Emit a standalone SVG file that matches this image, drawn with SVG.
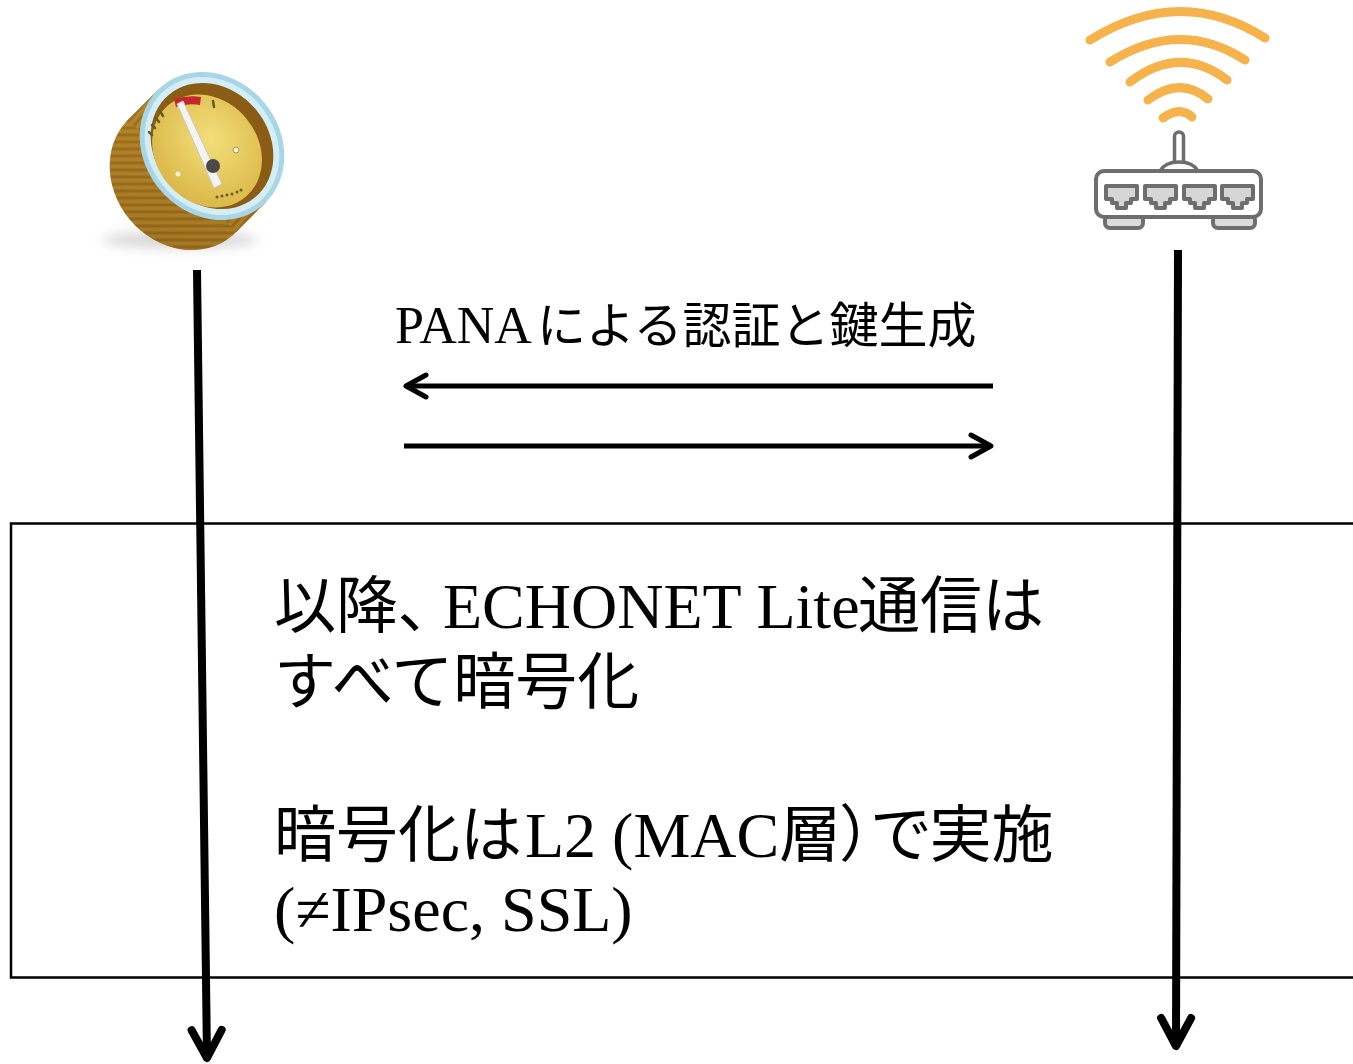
<svg xmlns="http://www.w3.org/2000/svg" width="1353" height="1064" viewBox="0 0 1353 1064">
  <style>
    .lat { font-family: "Liberation Serif", "Times New Roman", serif; }
    .cjk { font-family: "Noto Sans CJK JP", "Noto Sans", sans-serif; }
    .pcjk { font-family: "Noto Sans CJK JP", "Noto Sans", sans-serif; font-feature-settings: "palt" 1; }
    .big { font-size: 62px; fill: #000; }
    .label { font-size: 49px; fill: #000; }
    .life { stroke: #000; stroke-width: 8; fill: none; }
    .msg { stroke: #000; stroke-width: 5; fill: none; }
    .wifi { stroke: #f6b24b; stroke-width: 9; fill: none; stroke-linecap: round; }
    .grey { stroke: #6e6e6e; stroke-width: 4; stroke-linejoin: round; }
  </style>
  <defs>
    <marker id="headBig" markerUnits="userSpaceOnUse" orient="auto" overflow="visible" markerWidth="40" markerHeight="40">
      <path d="M -28,-15 L 0,0 L -28,15" fill="none" stroke="#000" stroke-width="8" stroke-linecap="round" stroke-linejoin="round"/>
    </marker>
    <marker id="headMsg" markerUnits="userSpaceOnUse" orient="auto" overflow="visible" markerWidth="30" markerHeight="30">
      <path d="M -20,-11 L 0,0 L -20,11" fill="none" stroke="#000" stroke-width="5" stroke-linecap="round" stroke-linejoin="round"/>
    </marker>
    <radialGradient id="faceGrad" cx="0.45" cy="0.4" r="0.65">
      <stop offset="0" stop-color="#f3df7a"/>
      <stop offset="1" stop-color="#d9b545"/>
    </radialGradient>
    <linearGradient id="bodyGrad" x1="0" y1="0" x2="1" y2="1">
      <stop offset="0" stop-color="#c2922e"/>
      <stop offset="1" stop-color="#7d5614"/>
    </linearGradient>
    <pattern id="ridges" patternUnits="userSpaceOnUse" width="7" height="7" patternTransform="rotate(40)">
      <rect width="7" height="7" fill="#b5852a"/>
      <rect width="3" height="7" fill="#94681c"/>
    </pattern>
    <filter id="soft" x="-20%" y="-200%" width="140%" height="500%">
      <feGaussianBlur stdDeviation="6"/>
    </filter>
  </defs>

  <!-- encrypted-communication region -->
  <rect id="secureBox" x="11" y="523.5" width="1360" height="454" fill="none" stroke="#000" stroke-width="2.5"/>

  <!-- smart meter -->
  <g id="meter">
    <ellipse cx="180" cy="240" rx="78" ry="8" fill="#bbbbbb" opacity="0.6" filter="url(#soft)"/>
    <!-- cylinder body -->
    <ellipse cx="182" cy="176" rx="78" ry="68" transform="rotate(50 182 176)" fill="url(#ridges)"/>
    <polygon points="158,89.7 266,202.3 236,232.3 128,119.7" fill="url(#ridges)"/>
    <ellipse cx="182" cy="176" rx="78" ry="68" transform="rotate(50 182 176)" fill="url(#bodyGrad)" opacity="0.35"/>
    <!-- front rim and dial -->
    <ellipse cx="212" cy="146" rx="78" ry="68" transform="rotate(50 212 146)" fill="#a9d6e6"/>
    <ellipse cx="212" cy="146" rx="73" ry="63" transform="rotate(50 212 146)" fill="#d3eef6"/>
    <ellipse cx="212" cy="146" rx="67" ry="57" transform="rotate(50 212 146)" fill="#8a5c14"/>
    <ellipse cx="207" cy="151" rx="60" ry="51" transform="rotate(50 207 151)" fill="url(#faceGrad)"/>
    <!-- scale -->
    <path d="M 174,99 Q 188,95 201,97 L 200,105 Q 188,103 176,107 Z" fill="#c4262a"/>
    <g stroke="#6b5a1e" stroke-width="2.5" stroke-linecap="round">
      <line x1="213" y1="101" x2="214" y2="107"/>
      <line x1="160" y1="111" x2="163" y2="116"/>
      <line x1="156" y1="118" x2="159" y2="122"/>
      <line x1="152" y1="125" x2="155" y2="128"/>
      <line x1="149" y1="132" x2="152" y2="135"/>
    </g>
    <g fill="#6b5a1e">
      <circle cx="217" cy="197" r="1.5"/>
      <circle cx="222" cy="196" r="1.5"/>
      <circle cx="227" cy="195" r="1.5"/>
      <circle cx="232" cy="194" r="1.5"/>
      <circle cx="237" cy="192" r="1.5"/>
      <circle cx="241" cy="190" r="1.5"/>
    </g>
    <circle cx="236" cy="150" r="3" fill="#f5f0da" stroke="#a99a5a" stroke-width="1"/>
    <circle cx="178" cy="174" r="2.5" fill="#f5f0da"/>
    <!-- needle -->
    <polygon points="177,104 183,101 222,184 214,188" fill="#f4f4f0" stroke="#c9c9c0" stroke-width="1"/>
    <circle cx="213" cy="166" r="7" fill="#4a4a48"/>
  </g>

  <!-- wireless router -->
  <g id="router">
    <path class="wifi" d="M 1090,40 Q 1180,-16 1265,38"/>
    <path class="wifi" d="M 1110,62 Q 1180,18 1245,60"/>
    <path class="wifi" d="M 1130,82 Q 1180,44 1227,80"/>
    <path class="wifi" d="M 1148,100 Q 1180,76 1208,99"/>
    <path class="wifi" d="M 1163,118 Q 1180,106 1192,117"/>
    <rect x="1174.5" y="132" width="9" height="36" rx="4.5" fill="#fff" stroke="#6e6e6e" stroke-width="3.5"/>
    <path d="M 1160,171 Q 1165,162 1179,162 Q 1193,162 1198,171" fill="#fff" stroke="#6e6e6e" stroke-width="3.5"/>
    <rect x="1105" y="215" width="38" height="13" rx="5" fill="#dcdcdc" class="grey" stroke-width="3.5"/>
    <rect x="1213" y="215" width="42" height="13" rx="5" fill="#dcdcdc" class="grey" stroke-width="3.5"/>
    <rect x="1096" y="171" width="165" height="46" rx="8" fill="#fff" class="grey"/>
    <g fill="#d6d6d6" class="grey" stroke-width="3">
      <path d="M 1106,186 h31 v13 h-6 v4 h-5 v5 h-9 v-5 h-5 v-4 h-6 z"/>
      <path d="M 1145,186 h31 v13 h-6 v4 h-5 v5 h-9 v-5 h-5 v-4 h-6 z"/>
      <path d="M 1184,186 h31 v13 h-6 v4 h-5 v5 h-9 v-5 h-5 v-4 h-6 z"/>
      <path d="M 1222,186 h31 v13 h-6 v4 h-5 v5 h-9 v-5 h-5 v-4 h-6 z"/>
    </g>
  </g>

  <!-- lifelines and messages -->
  <g id="connectors">
    <line class="life" x1="197" y1="270" x2="207" y2="1058" marker-end="url(#headBig)"/>
    <line class="life" x1="1178" y1="250" x2="1176" y2="1046" marker-end="url(#headBig)"/>
    <line class="msg" x1="993" y1="386" x2="406" y2="386" marker-end="url(#headMsg)"/>
    <line class="msg" x1="404" y1="446" x2="991" y2="446" marker-end="url(#headMsg)"/>
  </g>

  <!-- message label -->
  <g id="panaLabel">
    <text class="label" y="343"><tspan class="lat" x="395" font-size="52">PANA</tspan><tspan class="cjk" x="537">による認証と鍵生成</tspan></text>
  </g>

  <!-- notes inside the region -->
  <g id="notes" class="big">
    <text y="628"><tspan class="pcjk" x="274">以降、</tspan><tspan class="lat" x="443" font-size="64">ECHONET Lite</tspan><tspan class="cjk" x="858">通信は</tspan></text>
    <text y="704"><tspan class="cjk" x="274">すべて暗号化</tspan></text>
    <text y="857"><tspan class="cjk" x="274">暗号化は</tspan><tspan class="lat" x="525" font-size="64">L2 (MAC</tspan><tspan class="pcjk">層）で実施</tspan></text>
    <text y="931"><tspan class="lat" x="274" font-size="64">(≠IPsec, SSL)</tspan></text>
  </g>
</svg>
